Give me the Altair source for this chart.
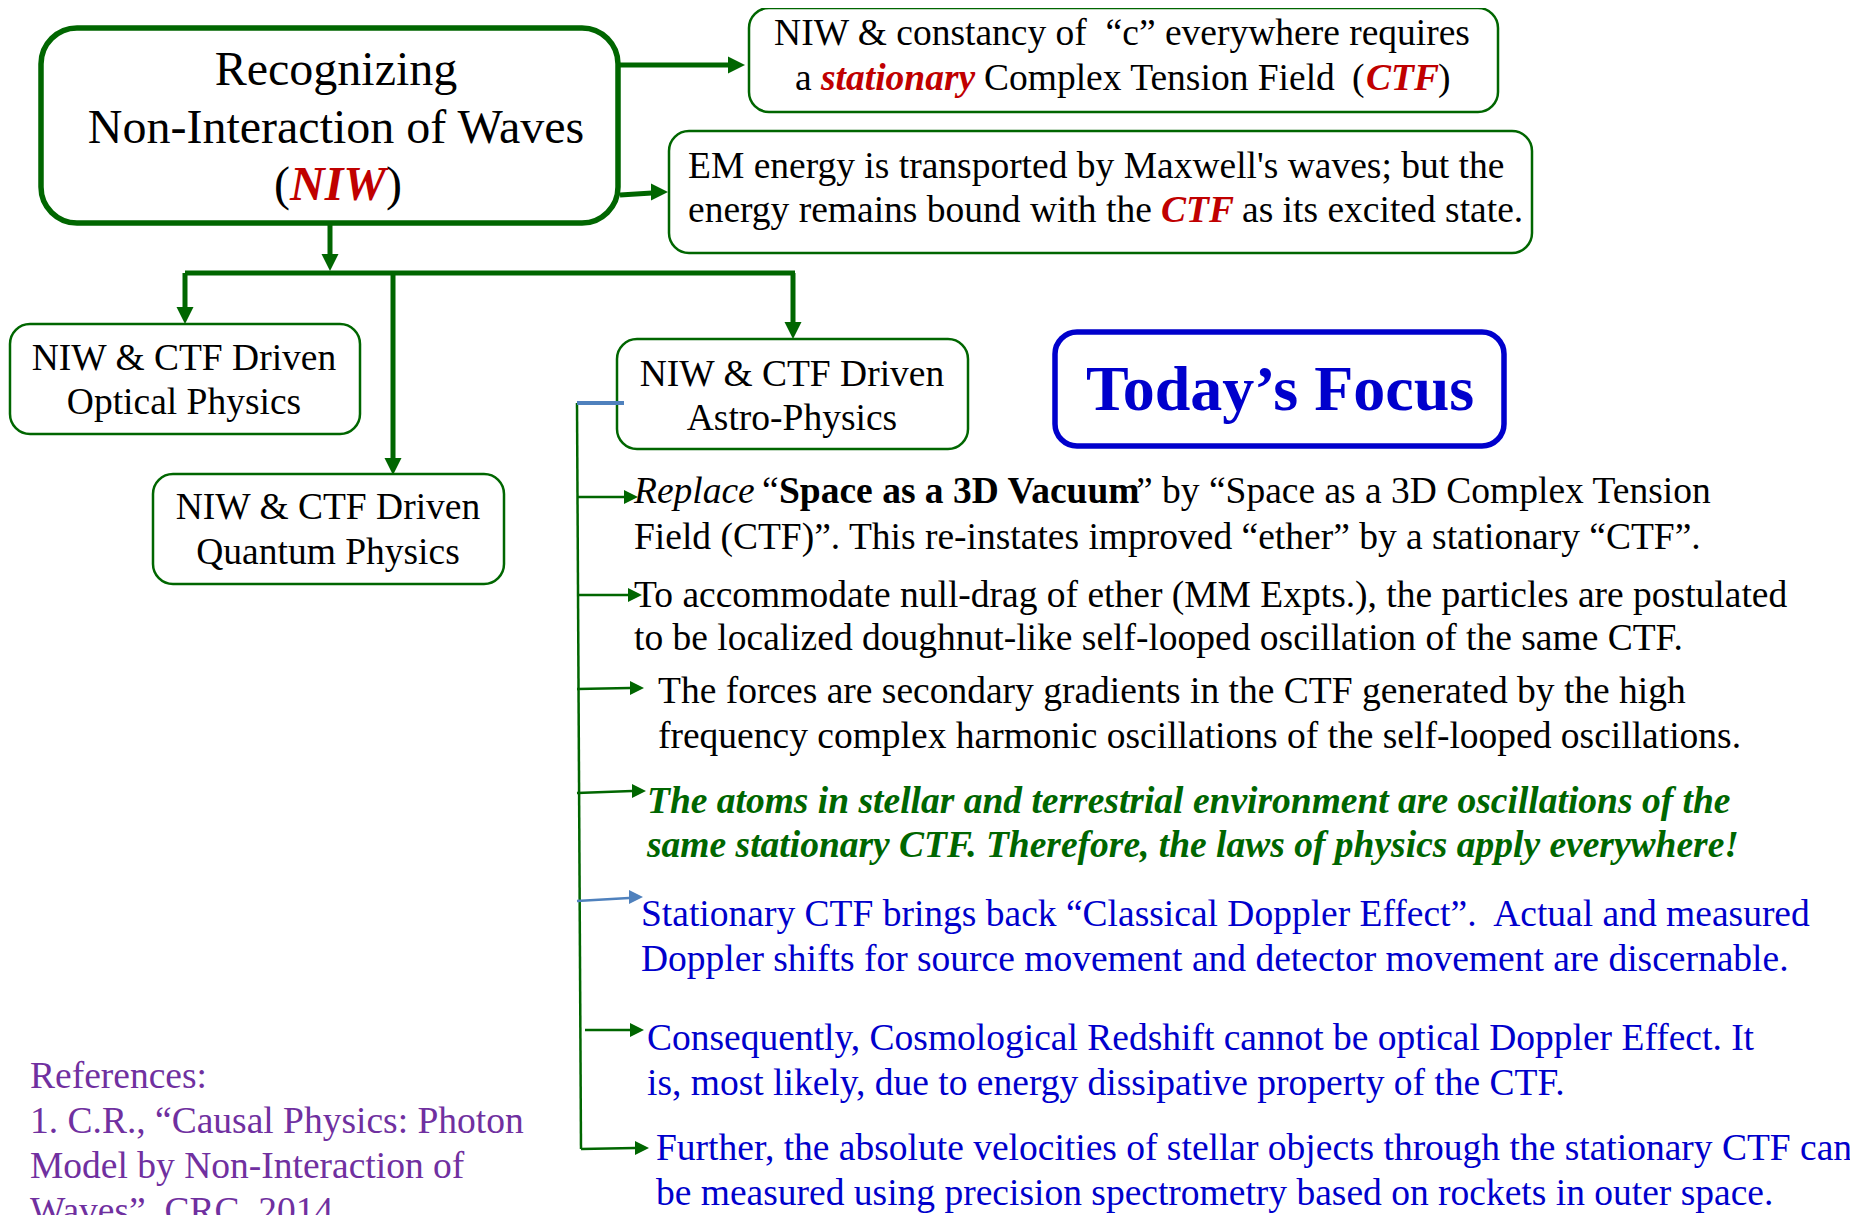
import altair as alt
import pandas as pd

# ---------------- canvas (page pixels of the reference) ----------------
W, H = 1842, 1207
OFF = 8
FONT = "Liberation Serif"

GREEN = "#006600"
RED = "#C00000"
BLUE = "#0000CC"
STEEL = "#4F81BD"
PURPLE = "#7030A0"
BLACK = "#000000"
TGREEN = "#006600"

FS_MAIN = 48
FS = 37.5
FS_FOCUS = 64

# ---------------- boxes ----------------
box_group = ["main", "thin", "thin", "thin", "thin", "thin", "focus"]
box_x0 = [41, 749, 669, 10, 153, 617, 1055]
box_x1 = [618, 1498, 1532, 360, 504, 968, 1504]
box_y0 = [28, 8, 131, 324, 474, 339, 332]
box_y1 = [223, 112, 253, 434, 584, 449, 446]

# ---------------- connector lines ----------------
line_x0 = [620, 620, 330, 185, 185, 393, 793, 577, 577, 577, 577, 577, 577, 585, 581, 577]
line_y0 = [65, 195, 223, 273, 273, 273, 273, 403, 497, 595, 689, 793, 901, 1030, 1149, 403]
line_x1 = [729, 652, 330, 795, 185, 393, 793, 581, 624, 628, 630, 632, 629, 630, 635, 624]
line_y1 = [65, 193, 255, 273, 308, 459, 323, 1149, 497, 595, 688, 791, 898, 1030, 1148, 403]
line_w = [5, 5, 5, 5, 5, 5, 5, 2.5, 2.5, 2.5, 2.5, 2.5, 2.5, 2.5, 2.5, 4]
line_c = [GREEN] * 12 + [STEEL, GREEN, GREEN, STEEL]

# ---------------- arrow heads (tip positions) ----------------
head_x = [745, 668, 330, 185, 393, 793, 638, 642, 644, 646, 643, 644, 649]
head_y = [65, 192, 271, 324, 475, 339, 497, 595, 688, 791, 897, 1030, 1148]
head_angle = [0, 0, 90, 90, 90, 90, 0, 0, 0, 0, 0, 0, 0]
head_size = [289, 289, 289, 289, 289, 289, 196, 196, 196, 196, 196, 196, 196]
head_c = [GREEN] * 10 + [STEEL, GREEN, GREEN]

# ---------------- text segments: (text, x, baseline y, style, colour, size, align) ----------------
main_text = [
    ("Recognizing", 336, 85, "normal", BLACK, FS_MAIN, "center"),
    ("Non-Interaction of Waves", 336, 143, "normal", BLACK, FS_MAIN, "center"),
    ("(", 274, 200, "normal", BLACK, FS_MAIN, "left"),
    ("NIW", 290, 200, "bolditalic", RED, FS_MAIN, "left"),
    (")", 386, 200, "normal", BLACK, FS_MAIN, "left"),
]
box1_text = [
    ("NIW & constancy of\u00a0 “c” everywhere requires", 1122, 45, "normal", BLACK, FS, "center"),
    ("a", 795, 90, "normal", BLACK, FS, "left"),
    ("stationary", 821, 90, "bolditalic", RED, FS, "left"),
    ("Complex Tension Field", 984, 90, "normal", BLACK, FS, "left"),
    ("(", 1352, 90, "normal", BLACK, FS, "left"),
    ("CTF", 1366, 90, "bolditalic", RED, FS, "left"),
    (")", 1438, 90, "normal", BLACK, FS, "left"),
]
box2_text = [
    ("EM energy is transported by Maxwell's waves; but the", 688, 178, "normal", BLACK, FS, "left"),
    ("energy remains bound with the", 688, 222, "normal", BLACK, FS, "left"),
    ("CTF", 1161, 222, "bolditalic", RED, FS, "left"),
    ("as its excited state.", 1242, 222, "normal", BLACK, FS, "left"),
]
branch_text = [
    ("NIW & CTF Driven", 184, 370, "normal", BLACK, FS, "center"),
    ("Optical Physics", 184, 414, "normal", BLACK, FS, "center"),
    ("NIW & CTF Driven", 328, 519, "normal", BLACK, FS, "center"),
    ("Quantum Physics", 328, 564, "normal", BLACK, FS, "center"),
    ("NIW & CTF Driven", 792, 386, "normal", BLACK, FS, "center"),
    ("Astro-Physics", 792, 430, "normal", BLACK, FS, "center"),
    ("Today’s Focus", 1280, 410, "bold", BLUE, FS_FOCUS, "center"),
]
item_text = [
    ("Replace", 634, 503, "italic", BLACK, FS, "left"),
    ("“", 762, 503, "normal", BLACK, FS, "left"),
    ("Space as a 3D Vacuum", 779, 503, "bold", BLACK, FS, "left"),
    ("” by “Space as a 3D Complex Tension", 1136, 503, "normal", BLACK, FS, "left"),
    ("Field (CTF)”. This re-instates improved “ether” by a stationary “CTF”.", 634, 549, "normal", BLACK, FS, "left"),
    ("To accommodate null-drag of ether (MM Expts.), the particles are postulated", 634, 607, "normal", BLACK, FS, "left"),
    ("to be localized doughnut-like self-looped oscillation of the same CTF.", 634, 650, "normal", BLACK, FS, "left"),
    ("The forces are secondary gradients in the CTF generated by the high", 658, 703, "normal", BLACK, FS, "left"),
    ("frequency complex harmonic oscillations of the self-looped oscillations.", 658, 748, "normal", BLACK, FS, "left"),
    ("The atoms in stellar and terrestrial environment are oscillations of the", 647, 813, "bolditalic", TGREEN, FS, "left"),
    ("same stationary CTF. Therefore, the laws of physics apply everywhere!", 647, 857, "bolditalic", TGREEN, FS, "left"),
    ("Stationary CTF brings back “Classical Doppler Effect”.\u00a0 Actual and measured", 641, 926, "normal", BLUE, FS, "left"),
    ("Doppler shifts for source movement and detector movement are discernable.", 641, 971, "normal", BLUE, FS, "left"),
    ("Consequently, Cosmological Redshift cannot be optical Doppler Effect. It", 647, 1050, "normal", BLUE, FS, "left"),
    ("is, most likely, due to energy dissipative property of the CTF.", 647, 1095, "normal", BLUE, FS, "left"),
    ("Further, the absolute velocities of stellar objects through the stationary CTF can", 656, 1160, "normal", BLUE, FS, "left"),
    ("be measured using precision spectrometry based on rockets in outer space.", 656, 1205, "normal", BLUE, FS, "left"),
]
ref_text = [
    ("References:", 30, 1088, "normal", PURPLE, FS, "left"),
    ("1. C.R., “Causal Physics: Photon", 30, 1133, "normal", PURPLE, FS, "left"),
    ("Model by Non-Interaction of", 30, 1178, "normal", PURPLE, FS, "left"),
    ("Waves”, CRC, 2014", 30, 1223, "normal", PURPLE, FS, "left"),
]

# ---------------- scales (identity mapping to page pixels) ----------------
xs = alt.Scale(domain=[OFF, OFF + W], nice=False, zero=False)
ys = alt.Scale(domain=[OFF, OFF + H], nice=False, zero=False, reverse=True)


def X(f):
    return alt.X(f, type="quantitative", scale=xs, axis=None)


def Y(f):
    return alt.Y(f, type="quantitative", scale=ys, axis=None)


boxes = pd.DataFrame({"g": box_group, "x0": box_x0, "x1": box_x1, "y0": box_y0, "y1": box_y1})
box_styles = {
    "main": dict(cornerRadius=36, strokeWidth=5.5, stroke=GREEN),
    "thin": dict(cornerRadius=20, strokeWidth=2.5, stroke=GREEN),
    "focus": dict(cornerRadius=22, strokeWidth=5.5, stroke=BLUE),
}
layers = []
for g, st in box_styles.items():
    layers.append(
        alt.Chart(boxes[boxes.g == g]).mark_rect(fill="white", **st).encode(
            x=X("x0"), x2=alt.X2("x1"), y=Y("y0"), y2=alt.Y2("y1")
        )
    )

lines = pd.DataFrame({"x0": line_x0, "y0": line_y0, "x1": line_x1, "y1": line_y1, "w": line_w, "c": line_c})
layers.append(
    alt.Chart(lines).mark_rule(strokeCap="butt").encode(
        x=X("x0"), y=Y("y0"), x2=alt.X2("x1"), y2=alt.Y2("y1"),
        color=alt.Color("c:N", scale=None), size=alt.Size("w:Q", scale=None),
    )
)

heads = pd.DataFrame({"x": head_x, "y": head_y, "a": head_angle, "s": head_size, "c": head_c})
layers.append(
    alt.Chart(heads).mark_point(shape="M-2,-1L0,0L-2,1Z", filled=True, opacity=1, strokeWidth=0).encode(
        x=X("x"), y=Y("y"),
        angle=alt.Angle("a:Q", scale=None),
        size=alt.Size("s:Q", scale=None),
        color=alt.Color("c:N", scale=None),
    )
)

all_text = main_text + box1_text + box2_text + branch_text + item_text + ref_text
txt = pd.DataFrame(all_text, columns=["t", "x", "y", "style", "c", "fs", "align"])
for (style, align), sub in txt.groupby(["style", "align"]):
    layers.append(
        alt.Chart(sub).mark_text(
            font=FONT,
            align=align,
            baseline="alphabetic",
            fontWeight="bold" if "bold" in style else "normal",
            fontStyle="italic" if "italic" in style else "normal",
        ).encode(
            x=X("x"), y=Y("y"), text="t:N",
            color=alt.Color("c:N", scale=None),
            size=alt.Size("fs:Q", scale=None),
        )
    )

chart = (
    alt.layer(*layers)
    .properties(
        width=W, height=H, autosize=alt.AutoSizeParams(type="none"), padding=0, background="white"
    )
    .configure_view(stroke="transparent", strokeWidth=0)
)

chart.save("out.html", embed_options={"renderer": "svg", "actions": False})
